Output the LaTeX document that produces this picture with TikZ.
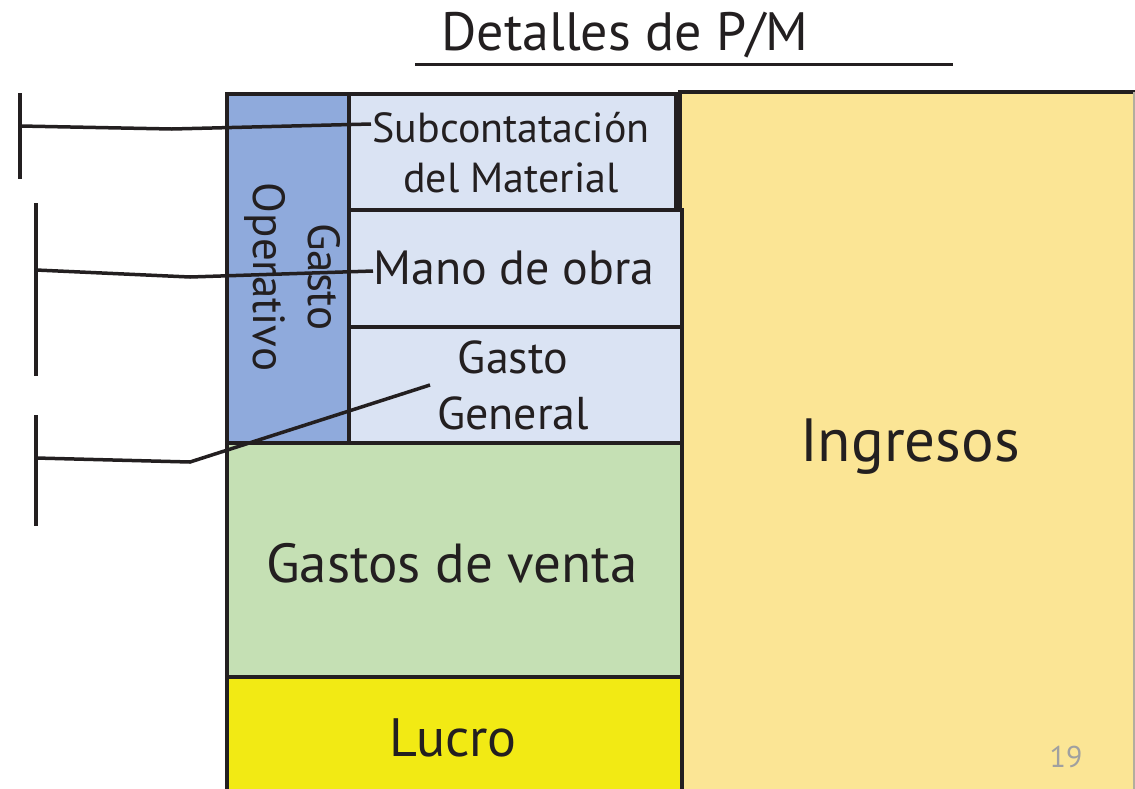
\documentclass[tikz,border=0pt]{standalone}
\usepackage{fontspec}
\setmainfont{PT Sans}
\definecolor{opblue}{HTML}{8FAADC}
\definecolor{lightblue}{HTML}{DAE3F3}
\definecolor{salesgreen}{HTML}{C5E0B4}
\definecolor{profit}{HTML}{F2EA14}
\definecolor{income}{HTML}{FBE595}
\definecolor{ink}{HTML}{231F20}
\definecolor{pagegray}{HTML}{A0A0A0}
\newcommand{\fsz}[2]{\fontsize{#1}{#2}\selectfont}
\tikzset{
  box/.style={draw=ink, line width=4pt, inner sep=0pt, anchor=north west, align=center, text=ink},
  label/.style={text=ink, inner sep=0pt, align=center},
  leader/.style={draw=ink, line width=3.5pt},
  bar/.style={draw=ink, line width=4pt},
}
\begin{document}
\begin{tikzpicture}[x=1pt,y=-1pt]
\useasboundingbox (0,0) rectangle (1135,788);
% title
\node[label, anchor=base] (title) at (625,50) {\fsz{54}{60}Detalles de P/M};
\draw[ink, line width=3pt] (415,64) -- (953,64);
% Ingresos
\fill[income] (680,92) rectangle (1135,790);
\draw[ink, line width=4pt] (680,790) -- (680,92) -- (1135,92);
\draw[pagegray!80!income, line width=1.5pt] (1134,92) -- (1134,790);
\node[label] (ingresos) at (910,447) {\fsz{61}{66}Ingresos};
% yellow Lucro
\node[box, fill=profit, minimum width=455pt, minimum height=120pt] (lucro) at (225,675) {};
\node[label] (lucrot) at (453,738) {\fsz{54}{60}Lucro};
% green
\node[box, fill=salesgreen, minimum width=455pt, minimum height=234pt] (ventas) at (225,441) {};
\node[label] (ventast) at (452,563) {\fsz{55}{60}Gastos de venta};
% blue column
\node[box, fill=opblue, minimum width=122pt, minimum height=349pt] (oper) at (225,92) {};
\node[label, rotate=-90, font=\fsz{45}{55}] (opert) at (293,277) {Gasto\\Operativo};
% light blue boxes
\node[box, fill=lightblue, minimum width=327pt, minimum height=116pt] (sub) at (347,92) {};
\node[box, fill=lightblue, minimum width=333pt, minimum height=117pt] (mano) at (347,208) {};
\node[box, fill=lightblue, minimum width=333pt, minimum height=116pt] (gen) at (347,325) {};
\node[label, font=\fsz{42}{50}] (subt) at (511,153) {Subcontatación\\del Material};
\node[label, font=\fsz{48}{54}] (manot) at (514,268) {Mano de obra};
\node[label, font=\fsz{46}{56}] (gent) at (513,385) {Gasto\\General};
% page number
\node[text=pagegray, inner sep=0pt] (page) at (1066,757) {\fsz{30}{34}19};
% brackets
\coordinate (b1t) at (20,93);   \coordinate (b1b) at (20,179);
\coordinate (b2t) at (36,203);  \coordinate (b2b) at (36,376);
\coordinate (b3t) at (36,415);  \coordinate (b3b) at (36,526);
\draw[bar] (b1t) -- (b1b);
\draw[bar] (b2t) -- (b2b);
\draw[bar] (b3t) -- (b3b);
\coordinate (b1m) at (20,126);
\coordinate (b2m) at (36,270);
\coordinate (b3m) at (36,458);
\coordinate (e1) at (371,124);
\coordinate (e2) at (373,271);
\coordinate (e3) at (430,385);
\draw[leader] (b1m) -- (172,129) -- (e1);
\draw[leader] (b2m) -- (190,277) -- (e2);
\draw[leader] (b3m) -- (190,462) -- (e3);
\end{tikzpicture}
\end{document}
